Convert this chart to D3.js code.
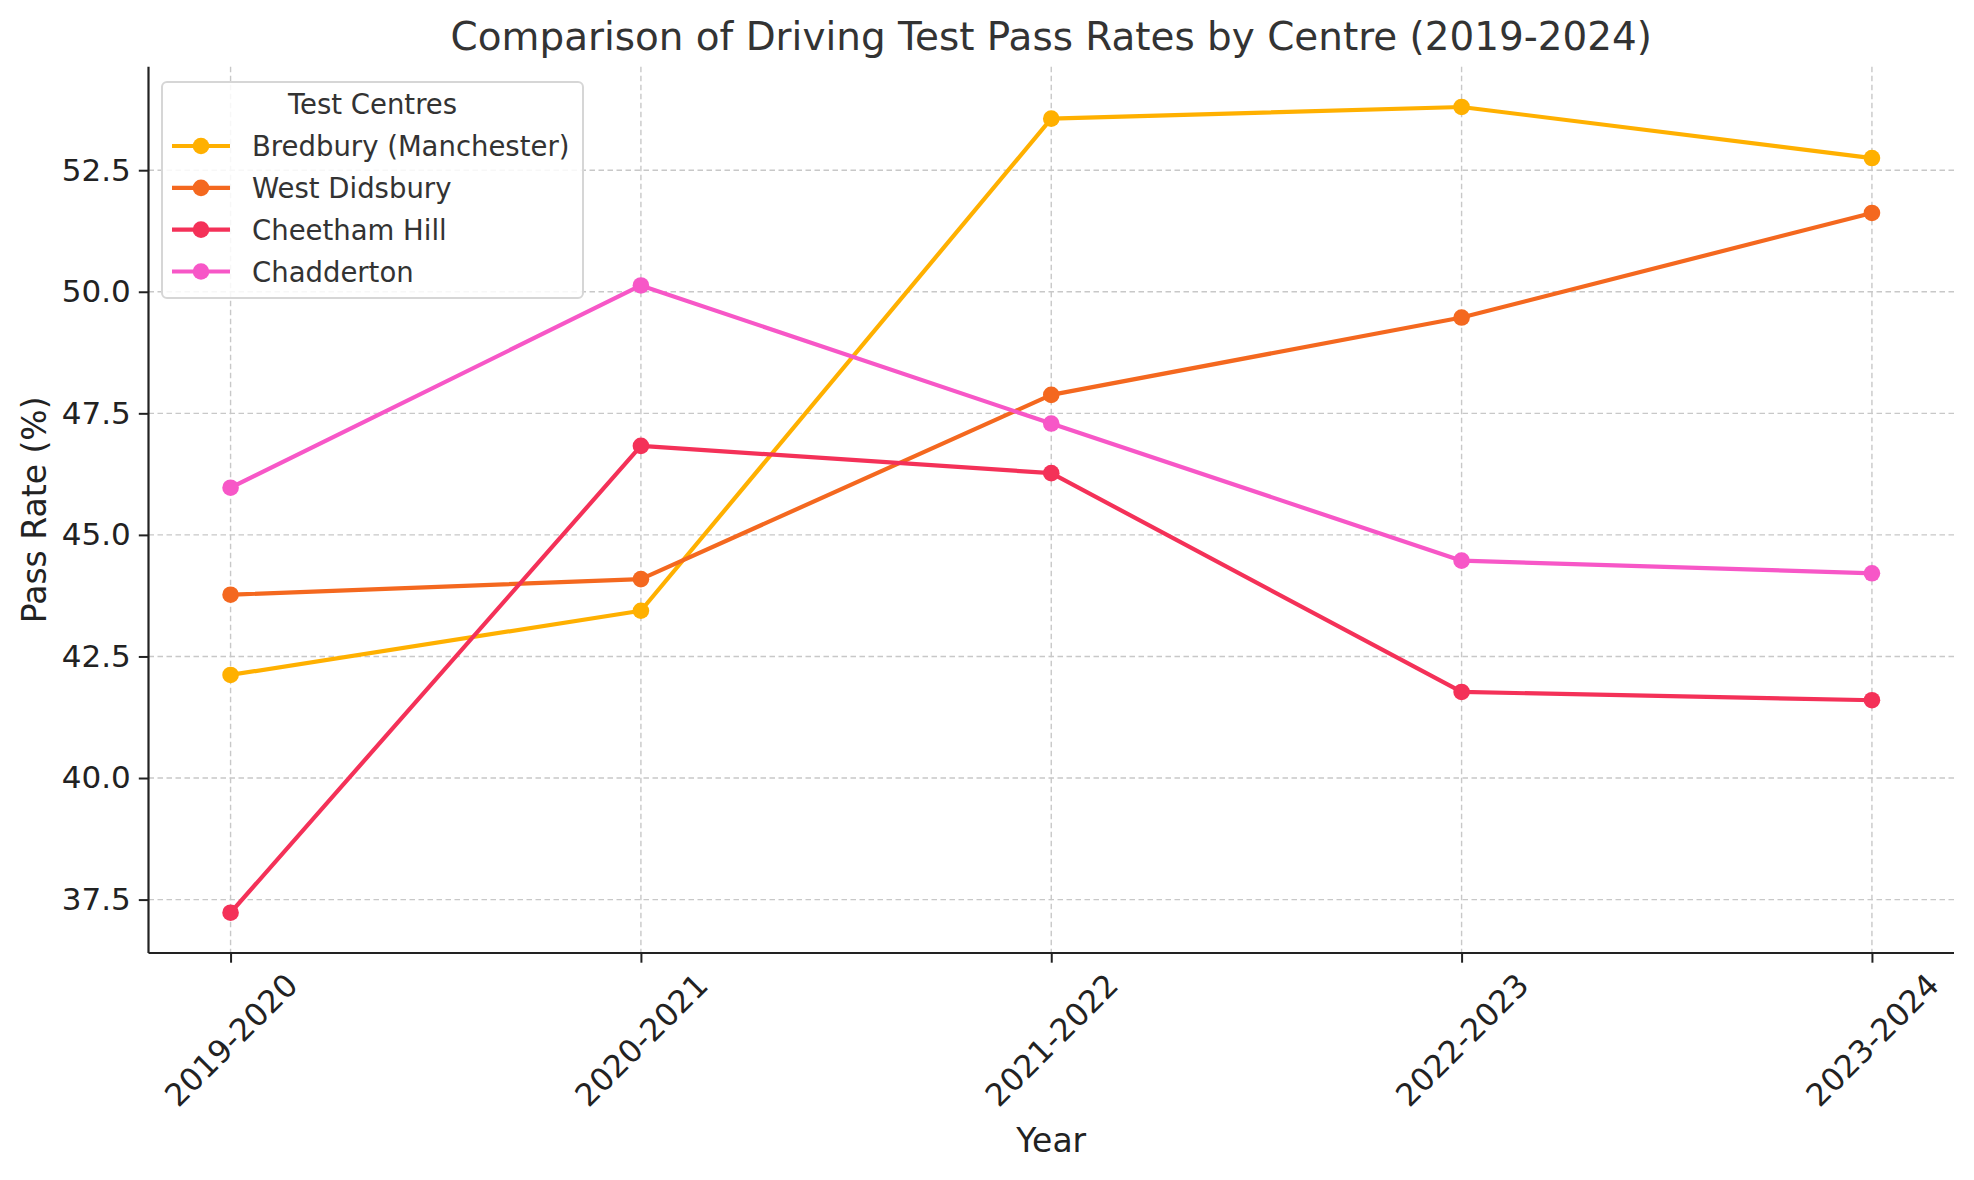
<!DOCTYPE html>
<html>
<head>
<meta charset="utf-8">
<script src="https://cdn.jsdelivr.net/npm/d3@7"></script>
<style>
  html, body { margin: 0; padding: 0; background: #fff; }
  svg { display: block; font-family: "DejaVu Sans", sans-serif; }
</style>
</head>
<body>
<svg id="chart" width="1974" height="1180"></svg>
<script>
const years = ["2019-2020", "2020-2021", "2021-2022", "2022-2023", "2023-2024"];
const centres = ["Bredbury (Manchester)", "West Didsbury", "Cheetham Hill", "Chadderton"];
const bredbury = [42.12, 43.44, 53.56, 53.80, 52.75];
const westDidsbury = [43.77, 44.09, 47.88, 49.47, 51.62];
const cheethamHill = [37.23, 46.83, 46.27, 41.77, 41.60];
const chadderton = [45.97, 50.13, 47.29, 44.47, 44.21];
const colors = ["#FFB000", "#F4681F", "#F43158", "#F757C7"];
const yTicks = [37.5, 40.0, 42.5, 45.0, 47.5, 50.0, 52.5];

const seriesValues = [bredbury, westDidsbury, cheethamHill, chadderton];

const svg = d3.select("#chart");
const L = 148.5, R = 1954, T = 66.7, B = 953;

const x = d3.scaleLinear().domain([-0.2, years.length - 1 + 0.2]).range([L, R]);
const allVals = seriesValues.flat();
const ymin = d3.min(allVals), ymax = d3.max(allVals);
const pad = (ymax - ymin) * 0.05;
const y = d3.scaleLinear().domain([ymin - pad, ymax + pad]).range([B, T]);

// grid
const grid = svg.append("g");
grid.selectAll("line.gy").data(yTicks).enter().append("line")
  .attr("x1", L).attr("x2", R)
  .attr("y1", d => y(d)).attr("y2", d => y(d))
  .attr("stroke", "#c8c8c8").attr("stroke-width", 1.4).attr("stroke-dasharray", "5.5,3.5");
grid.selectAll("line.gx").data(years).enter().append("line")
  .attr("x1", (d, i) => x(i)).attr("x2", (d, i) => x(i))
  .attr("y1", T).attr("y2", B)
  .attr("stroke", "#c8c8c8").attr("stroke-width", 1.4).attr("stroke-dasharray", "5.5,3.5");

// axes
const yAxis = d3.axisLeft(y).tickValues(yTicks).tickFormat(d3.format(".1f")).tickSizeOuter(0).tickSize(9.7).tickPadding(8);
const gy = svg.append("g").attr("transform", `translate(${L},0)`).call(yAxis);
gy.select(".domain").attr("stroke", "#222").attr("stroke-width", 2.2).attr("d", `M0,${T}V${B}`);
gy.selectAll(".tick line").attr("stroke", "#222").attr("stroke-width", 2);
gy.selectAll(".tick text").attr("font-size", 31).attr("fill", "#222").attr("font-family", "DejaVu Sans");

const xAxis = d3.axisBottom(x).tickValues(d3.range(years.length)).tickFormat(i => years[i]).tickSizeOuter(0).tickSize(9.7);
const gx = svg.append("g").attr("transform", `translate(0,${B})`).call(xAxis);
gx.select(".domain").attr("stroke", "#222").attr("stroke-width", 2.2).attr("d", `M${L},0H${R}`);
gx.selectAll(".tick line").attr("stroke", "#222").attr("stroke-width", 2);
gx.selectAll(".tick text")
  .attr("font-size", 31.5).attr("fill", "#222").attr("font-family", "DejaVu Sans")
  .attr("y", 0).attr("dy", null)
  .attr("text-anchor", "middle").attr("dominant-baseline", "central")
  .attr("transform", "translate(0,87) rotate(-45)");

// lines
const line = d3.line().x((d, i) => x(i)).y(d => y(d));
seriesValues.forEach((vals, s) => {
  svg.append("path").datum(vals)
    .attr("fill", "none").attr("stroke", colors[s]).attr("stroke-width", 4.2)
    .attr("stroke-linejoin", "round").attr("stroke-linecap", "square")
    .attr("d", line);
  svg.append("g").selectAll("circle").data(vals).enter().append("circle")
    .attr("cx", (d, i) => x(i)).attr("cy", d => y(d)).attr("r", 8.3)
    .attr("fill", colors[s]);
});

// title and labels
svg.append("text").attr("x", (L + R) / 2).attr("y", 50).attr("text-anchor", "middle")
  .attr("font-size", 38.9).attr("fill", "#333").text("Comparison of Driving Test Pass Rates by Centre (2019-2024)");
svg.append("text").attr("x", (L + R) / 2).attr("y", 1152).attr("text-anchor", "middle")
  .attr("font-size", 33).attr("fill", "#222").text("Year");
svg.append("text").attr("transform", `translate(46,${(T + B) / 2}) rotate(-90)`).attr("text-anchor", "middle")
  .attr("font-size", 33).attr("fill", "#222").text("Pass Rate (%)");

// legend
const lg = svg.append("g");
lg.append("rect").attr("x", 162).attr("y", 82).attr("width", 421).attr("height", 216)
  .attr("rx", 5).attr("fill", "rgba(255,255,255,0.85)").attr("stroke", "#d6d6d6").attr("stroke-width", 2);
lg.append("text").attr("x", 372.5).attr("y", 104).attr("text-anchor", "middle").attr("dominant-baseline", "central")
  .attr("font-size", 27.5).attr("fill", "#333").text("Test Centres");
const rowY = d3.scaleLinear().domain([0, 3]).range([146, 271.5]);
centres.forEach((c, i) => {
  const yy = rowY(i);
  lg.append("line").attr("x1", 172).attr("x2", 230).attr("y1", yy).attr("y2", yy)
    .attr("stroke", colors[i]).attr("stroke-width", 4.2);
  lg.append("circle").attr("cx", 201).attr("cy", yy).attr("r", 8.3).attr("fill", colors[i]);
  lg.append("text").attr("x", 252).attr("y", yy).attr("dominant-baseline", "central")
    .attr("font-size", 27.5).attr("fill", "#333").text(c);
});
</script>
</body>
</html>
